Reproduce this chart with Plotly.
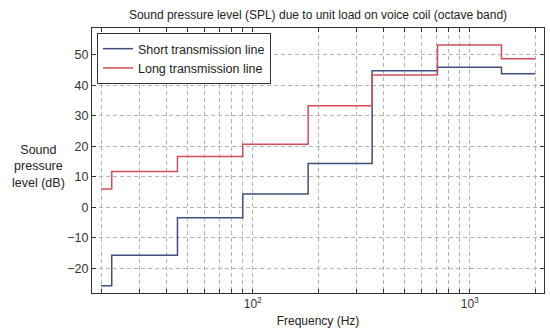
import plotly.graph_objects as go

# Octave band edges (Hz) and band levels (dB)
band_edges = [20, 22.4, 45, 90, 180, 355, 710, 1400, 2000]
spl_short = [-25.7, -15.7, -3.4, 4.4, 14.4, 44.8, 46.0, 43.8]
spl_long = [6.0, 11.8, 16.7, 20.7, 33.3, 43.4, 53.3, 48.8]

series_names = ["Short transmission line", "Long transmission line"]
series_colors = ["#404e80", "#d24d57"]

grid_freqs = [20, 30, 40, 50, 60, 70, 80, 90, 100,
              200, 300, 400, 500, 600, 700, 800, 900, 1000, 2000]
decade_labels = {100: "10<sup>2</sup>", 1000: "10<sup>3</sup>"}
y_ticks = [-20, -10, 0, 10, 20, 30, 40, 50]

FONT = "Liberation Sans, Arial, sans-serif"
GRID_DASH = "4px,3px"

fig = go.Figure()
for name, vals, col in zip(series_names, [spl_short, spl_long], series_colors):
    fig.add_trace(go.Scatter(
        x=band_edges, y=vals + [vals[-1]], mode="lines", name=name,
        line=dict(color=col, width=1.5, shape="hv"),
    ))

fig.update_layout(
    width=550, height=331,
    margin=dict(l=92, r=6, t=28, b=38),
    paper_bgcolor="white", plot_bgcolor="white",
    font=dict(family=FONT, size=12, color="#333333"),
    title=dict(text="Sound pressure level (SPL) due to unit load on voice coil (octave band)",
               x=(92 + 544) / 2 / 550, xanchor="center", y=1 - 15 / 331, yanchor="middle",
               font=dict(size=12, color="#222222")),
    legend=dict(x=0.011, y=0.981, xanchor="left", yanchor="top",
                bgcolor="white", bordercolor="#333333", borderwidth=1,
                font=dict(size=12.5, color="#222222"), tracegroupgap=0,
                itemwidth=30),
    showlegend=True,
)

fig.update_xaxes(
    type="log", range=[1.2594, 3.342],
    tickvals=grid_freqs,
    ticktext=[decade_labels.get(f, "") for f in grid_freqs],
    showgrid=True, gridcolor="#b4b4b4", griddash=GRID_DASH, gridwidth=1,
    ticks="inside", ticklen=4, tickcolor="#333333",
    showline=True, linecolor="#333333", linewidth=1, mirror="allticks",
    zeroline=False,
    title=dict(text="Frequency (Hz)", standoff=6, font=dict(size=12, color="#222222")),
    tickfont=dict(size=12, color="#333333"),
)
fig.update_yaxes(
    range=[-28.1, 58.85], tickvals=y_ticks,
    showgrid=True, gridcolor="#b4b4b4", griddash=GRID_DASH, gridwidth=1,
    ticks="inside", ticklen=4, tickcolor="#333333",
    showline=True, linecolor="#333333", linewidth=1, mirror="allticks",
    zeroline=False,
    tickfont=dict(size=12.5, color="#333333"),
)

fig.add_annotation(
    text="Sound<br>pressure<br>level (dB)", xref="paper", yref="paper",
    x=(38 - 92) / 452, y=0.479, xanchor="center", yanchor="middle",
    showarrow=False, font=dict(size=12.5, color="#222222"), align="center",
)

fig.write_html("out.html")
